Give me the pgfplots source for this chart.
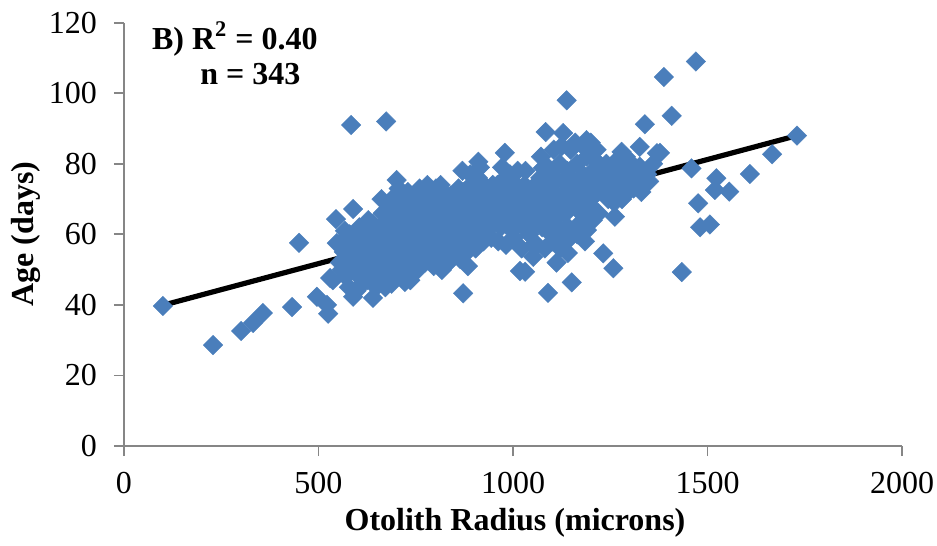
\documentclass[border=0pt]{standalone}
\usepackage{fontspec}
\setmainfont{Liberation Serif}
\usepackage{pgfplots}
\pgfplotsset{compat=1.18}
\definecolor{axgray}{HTML}{868686}
\definecolor{ptblue}{HTML}{4A7EBB}
\begin{document}
\begin{tikzpicture}
\begin{axis}[
  scale only axis,
  width=389pt, height=211.65pt,
  xmin=0, xmax=2000, ymin=0, ymax=120,
  xtick={0,500,1000,1500,2000},
  ytick={0,20,40,60,80,100,120},
  axis x line*=bottom, axis y line*=left,
  axis line style={draw=axgray, line width=0.9pt, -},
  tick style={draw=axgray, line width=0.9pt},
  tick align=outside, major tick length=5pt,
  scaled ticks=false,
  /pgf/number format/1000 sep={},
  /pgf/number format/assume math mode=true,
  tick label style={font=\fontsize{16}{19}\selectfont},
  xticklabel style={yshift=-4.5pt},
  yticklabel style={xshift=-5pt},
  clip=false,
]
\addplot[only marks, mark=square*, mark size=3.45pt,
  mark options={rotate=45, fill=ptblue, draw=ptblue, line width=0.2pt}]
coordinates {
(100,39.7)(229,28.6)(301,32.6)(332,34.9)(357,37.7)(432,39.4)(450,57.6)(496,42.3)
(522,40)(525,37.5)(530,47.6)(537,47)(545,64.3)(547,57.5)(555,57.5)(573,59.2)
(584,91)(589,67.2)(589,42.3)(640,42)(674,92)(701,75.4)(722,46.5)(817,49.9)
(872,43.3)(911,80.6)(979,83.1)(1018,49.6)(1031,49.4)(1052,57)(1052,53.6)(1077,78.8)
(1084,89)(1090,43.4)(1121,56)(1129,88.7)(1138,98)(1141,54.7)(1151,46.4)(1172,63.2)
(1189,86.7)(1190,61.2)(1216,80.5)(1232,54.6)(1258,50.4)(1262,65)(1267,81)(1279,83.4)
(1326,84.8)(1326,79.2)(1334,74.8)(1339,91.2)(1370,83)(1378,83.1)(1388,104.6)(1408,93.6)
(1434,49.3)(1459,78.7)(1470,109)(1476,68.8)(1481,62)(1506,62.8)(1519,72.6)(1523,75.9)
(1556,72.1)(1609,77.1)(1666,82.7)(1730,88)
(560,50)(565,55)(570,48)(575,53)(580,60)(585,52)(590,56)(595,49)(600,58)(605,62)
(610,51)(615,54)(620,57)(625,47)(630,60)(635,55)(640,63)(645,50)(650,58)(555,52)
(568,61)(578,45)(598,44)(612,46)(628,64)(642,53)(648,45)(600,53)(620,49)(633,52)
(655,55)(658,62)(660,48)(665,66)(668,58)(670,52)(675,60)(678,64)(680,56)(683,50)
(686,68)(690,62)(692,54)(695,58)(698,71)(700,65)(702,49)(705,60)(708,56)(710,67)
(712,52)(715,63)(718,70)(720,58)(722,54)(725,65)(728,61)(730,72)(733,50)(735,57)
(738,68)(740,63)(742,55)(745,60)(748,70)(750,52)(662,70)(672,45)(688,46)(696,66)
(706,73)(716,48)(726,68)(736,47)(746,66)(676,54)(694,51)(714,59)(732,64)(744,58)
(752,62)(755,68)(758,57)(760,73)(762,64)(765,55)(768,60)(770,70)(772,66)(775,58)
(778,62)(780,74)(782,53)(785,67)(788,61)(790,56)(792,71)(795,64)(798,59)(800,68)
(802,73)(805,62)(808,55)(810,66)(812,70)(815,60)(818,64)(820,57)(822,72)(825,67)
(828,62)(830,58)(832,69)(835,65)(838,55)(840,71)(842,61)(845,67)(848,58)(850,63)
(756,50)(774,52)(796,51)(816,53)(834,52)(764,69)(786,72)(806,58)(826,65)(846,70)
(776,66)(794,68)(814,74)(836,60)(766,58)(784,59)(804,65)(824,61)(844,64)
(852,70)(855,66)(858,60)(860,73)(862,64)(865,57)(868,68)(870,62)(872,72)(875,59)
(878,66)(880,70)(882,55)(885,64)(888,68)(890,61)(892,74)(895,66)(898,58)(900,71)
(902,64)(905,68)(908,60)(910,76)(912,66)(915,72)(918,62)(920,69)(922,64)(925,74)
(928,67)(930,61)(932,70)(935,65)(938,72)(940,68)(942,62)(945,66)(948,74)(950,69)
(864,53)(884,51)(904,56)(924,58)(944,59)(870,78)(890,77)(915,79)
(955,64)(958,70)(960,74)(965,67)(968,62)(970,72)(975,68)(978,65)(980,76)(985,70)
(988,63)(990,73)(995,68)(998,61)(1000,71)(1005,66)(1008,74)(1010,69)(1015,63)(1018,72)
(1020,67)(1025,70)(1028,64)(1030,74)(1035,66)(1038,61)(1040,71)(1045,68)(1048,64)(1050,73)
(962,58)(982,57)(1002,59)(1022,56)(1042,60)(972,79)(992,77)(1012,78)(1032,78)
(1055,68)(1058,74)(1060,63)(1065,71)(1068,66)(1070,76)(1075,62)(1078,70)(1080,73)(1085,67)
(1088,64)(1090,79)(1095,70)(1098,60)(1100,74)(1105,68)(1108,76)(1110,65)(1115,71)(1118,62)
(1120,80)(1125,69)(1128,75)(1130,66)(1135,72)(1138,58)(1140,78)(1145,67)(1148,84)(1150,70)
(1062,57)(1082,56)(1102,58)(1112,52)(1132,60)(1142,62)(1072,82)(1105,84)(1125,85)(1160,86)
(1155,75)(1160,68)(1165,80)(1170,72)(1175,66)(1180,77)(1185,70)(1190,82)(1195,74)(1200,68)
(1205,78)(1210,71)(1215,76)(1220,66)(1225,79)(1230,73)(1235,75)(1240,80)(1245,70)(1250,77)
(1255,73)(1260,69)(1265,76)(1270,72)(1275,79)(1280,70)(1285,74)(1290,77)(1295,72)(1300,76)
(1165,60)(1185,58)(1205,64)(1180,85)(1200,86)(1215,84)
(1310,73)(1320,78)(1330,72)(1345,77)(1350,75)(1360,80)(1305,80)(1290,82)
};
\addplot[black, line width=2.6pt, line cap=round] coordinates {(100,39.9)(1730,88)};
\end{axis}
\node[anchor=base, font=\fontsize{16}{19}\selectfont\bfseries] at (195.5pt,-42pt) {Otolith Radius (microns)};
\node[anchor=base, rotate=90, font=\fontsize{16}{19}\selectfont\bfseries] at (-45pt,106pt) {Age (days)};
\node[anchor=base west, inner sep=0pt, font=\fontsize{16}{19}\selectfont\bfseries] at (13.85pt,198.35pt) {B) R\textsuperscript{2} = 0.40};
\node[anchor=base west, inner sep=0pt, font=\fontsize{16}{19}\selectfont\bfseries] at (38pt,180.5pt) {n = 343};
\pgfresetboundingbox
\useasboundingbox (-62pt,-50pt) rectangle (406.5pt,223pt);
\end{tikzpicture}
\end{document}
